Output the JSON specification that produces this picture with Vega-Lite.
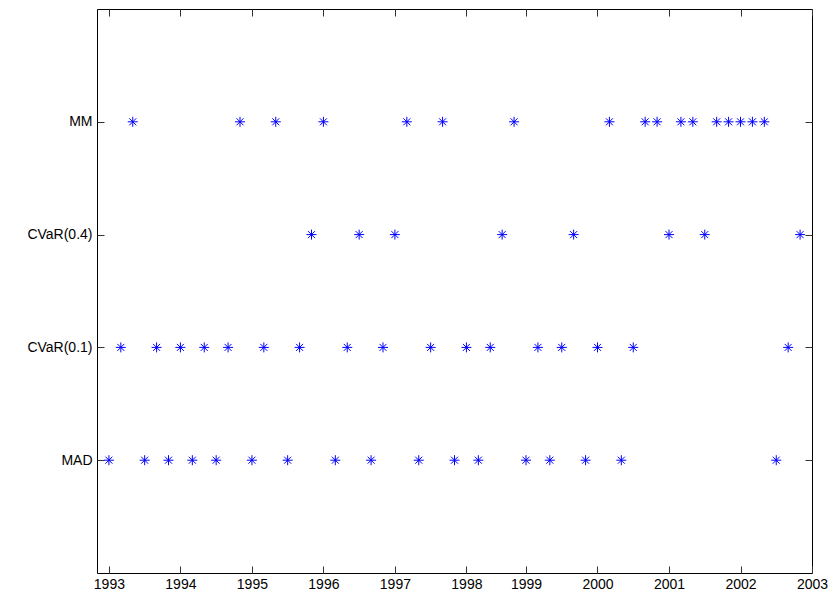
{
  "$schema": "https://vega.github.io/schema/vega-lite/v6.json",
  "width": 715,
  "height": 564,
  "autosize": {"type": "none"},
  "padding": {"left": 97, "top": 9, "right": 23, "bottom": 22},
  "background": "white",
  "config": {
    "view": {"stroke": "black", "strokeWidth": 1},
    "font": "Liberation Sans",
    "axis": {
      "grid": false,
      "domain": false,
      "tickColor": "#333333",
      "tickSize": -7,
      "labelFont": "Liberation Sans",
      "labelFontSize": 14,
      "labelColor": "black",
      "title": null
    }
  },
  "data": {
    "values": [
      {"method": "MM", "period": 4}, {"method": "MM", "period": 22}, {"method": "MM", "period": 28},
      {"method": "MM", "period": 36}, {"method": "MM", "period": 50}, {"method": "MM", "period": 56},
      {"method": "MM", "period": 68}, {"method": "MM", "period": 84}, {"method": "MM", "period": 90},
      {"method": "MM", "period": 92}, {"method": "MM", "period": 96}, {"method": "MM", "period": 98},
      {"method": "MM", "period": 102}, {"method": "MM", "period": 104}, {"method": "MM", "period": 106},
      {"method": "MM", "period": 108}, {"method": "MM", "period": 110},
      {"method": "CVaR(0.4)", "period": 34}, {"method": "CVaR(0.4)", "period": 42}, {"method": "CVaR(0.4)", "period": 48},
      {"method": "CVaR(0.4)", "period": 66}, {"method": "CVaR(0.4)", "period": 78}, {"method": "CVaR(0.4)", "period": 94},
      {"method": "CVaR(0.4)", "period": 100}, {"method": "CVaR(0.4)", "period": 116},
      {"method": "CVaR(0.1)", "period": 2}, {"method": "CVaR(0.1)", "period": 8}, {"method": "CVaR(0.1)", "period": 12},
      {"method": "CVaR(0.1)", "period": 16}, {"method": "CVaR(0.1)", "period": 20}, {"method": "CVaR(0.1)", "period": 26},
      {"method": "CVaR(0.1)", "period": 32}, {"method": "CVaR(0.1)", "period": 40}, {"method": "CVaR(0.1)", "period": 46},
      {"method": "CVaR(0.1)", "period": 54}, {"method": "CVaR(0.1)", "period": 60}, {"method": "CVaR(0.1)", "period": 64},
      {"method": "CVaR(0.1)", "period": 72}, {"method": "CVaR(0.1)", "period": 76}, {"method": "CVaR(0.1)", "period": 82},
      {"method": "CVaR(0.1)", "period": 88}, {"method": "CVaR(0.1)", "period": 114},
      {"method": "MAD", "period": 0}, {"method": "MAD", "period": 6}, {"method": "MAD", "period": 10},
      {"method": "MAD", "period": 14}, {"method": "MAD", "period": 18}, {"method": "MAD", "period": 24},
      {"method": "MAD", "period": 30}, {"method": "MAD", "period": 38}, {"method": "MAD", "period": 44},
      {"method": "MAD", "period": 52}, {"method": "MAD", "period": 58}, {"method": "MAD", "period": 62},
      {"method": "MAD", "period": 70}, {"method": "MAD", "period": 74}, {"method": "MAD", "period": 80},
      {"method": "MAD", "period": 86}, {"method": "MAD", "period": 112}
    ]
  },
  "encoding": {
    "x": {
      "field": "period",
      "type": "quantitative",
      "scale": {"domain": [-2, 118], "nice": false, "zero": false}
    },
    "y": {
      "field": "method",
      "type": "nominal",
      "sort": ["MM", "CVaR(0.4)", "CVaR(0.1)", "MAD"],
      "scale": {"type": "point", "padding": 1}
    }
  },
  "layer": [
    {
      "mark": {
        "type": "point",
        "shape": "M-1,0L1,0M0,-1L0,1M-0.7,-0.7L0.7,0.7M-0.7,0.7L0.7,-0.7",
        "filled": false,
        "stroke": "#0000ff",
        "strokeWidth": 1,
        "size": 100,
        "opacity": 1
      },
      "encoding": {
        "x": {
          "field": "period",
          "type": "quantitative",
          "axis": {
            "orient": "bottom",
            "values": [0, 12, 24, 36, 48, 60, 70, 82, 94, 106, 118],
            "labelExpr": "{'0':'1993','12':'1994','24':'1995','36':'1996','48':'1997','60':'1998','70':'1999','82':'2000','94':'2001','106':'2002','118':'2003'}[toString(datum.value)]",
            "labelPadding": 11,
            "labelFlush": false,
            "labelOverlap": false
          }
        },
        "y": {
          "field": "method",
          "type": "nominal",
          "sort": ["MM", "CVaR(0.4)", "CVaR(0.1)", "MAD"],
          "axis": {"orient": "left", "labelPadding": 12}
        }
      }
    },
    {
      "mark": {
        "type": "point",
        "opacity": 0
      },
      "encoding": {
        "x": {
          "field": "period",
          "type": "quantitative",
          "axis": {
            "orient": "top",
            "values": [0, 12, 24, 36, 48, 60, 70, 82, 94, 106, 118],
            "labels": false
          }
        },
        "y": {
          "field": "method",
          "type": "nominal",
          "sort": ["MM", "CVaR(0.4)", "CVaR(0.1)", "MAD"],
          "axis": {"orient": "right", "labels": false}
        }
      }
    }
  ],
  "resolve": {"axis": {"x": "independent", "y": "independent"}}
}
